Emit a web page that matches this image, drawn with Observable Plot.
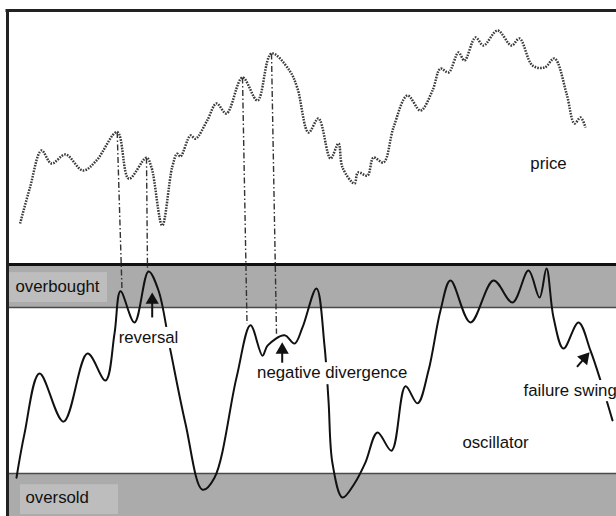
<!DOCTYPE html>
<html><head><meta charset="utf-8">
<script src="https://cdn.jsdelivr.net/npm/d3@7"></script>
<script src="https://cdn.jsdelivr.net/npm/@observablehq/plot@0.6"></script>
<style>
body{margin:0;background:#fff}
#chart{width:616px;height:516px;overflow:hidden}
#chart svg{display:block}
</style>
</head><body><div id="chart"></div>
<script>
// ---- price (upper panel), time index vs price units ----
const priceT = [19.6,29.5,41,51,65,82.5,96,116.7,128.3,146,151,161.7,171.7,176.7,180,190,195,206.7,216,226,242,257,271,289,297,308,318,330,338,342,354,357.5,367,373,383,393,407,420,432,440,448,458,464,475,483,497,511,519,532,544,554,566,574,580,585];
const priceV = [20.5,38.5,57,50.5,55,47,52,66.2,42.9,53.4,48.5,19.5,48.7,55.4,54,64.5,62.9,72,80.5,75.5,93.5,82,105.5,97,88,66,73,53,60.5,48.5,40.5,46,44.5,53.5,51,68.5,84.5,77,87,98,96,106,102,113.5,109.5,117,109.5,113,99.5,98.5,103,85.5,70.5,73.5,68.5];
// ---- oscillator (lower panel), 0-100 style ----
const oscT = [16,24,39,63,87,105,114,120,134,148,158,170,185,202,214,236,250,262,267,284,294,302,316,324,328,332,342,354,365,377,391,405,417,428,440,450,470,493,512,528,539,546,553,563,578,590,600,612];
const oscV = [29.0,39.6,54.1,42.5,58.9,52.4,63.7,73.9,66.4,78.7,74.1,59.6,42.0,26.1,29.0,53.1,65.7,58.4,60.8,63.3,61.3,65.2,74.6,60.8,47.6,32.4,24.2,27.6,32.7,39.9,35.5,51.0,46.9,54.8,69.3,76.5,66.4,76.5,71.2,78.9,72.4,79.4,67.6,60.1,66.4,59.6,52.4,42.8];
const overbought = 70, oversold = 30;
// ---- divergence links: price peak -> oscillator peak ----
const linkPriceT = [116.7,146,242,271];
const linkPriceV = [66.2,53.4,93.5,105.5];
const linkOscT = [121.5,147,246.5,276];
const linkOscV = [74.1,78.9,66.1,63.7];
// ---- annotations ----
const labelText  = ["price","overbought","oversold","reversal","negative divergence","failure swing","oscillator"];
const labelPanel = ["price","osc","osc","osc","osc","osc","osc"];
const labelT     = [548,15,25,148,331.7,523,495];
const labelV     = [50.5,75.1,24.1,62.8,54.2,50.0,37.5];
const labelAnchor= ["middle","start","start","middle","middle","start","middle"];
const boxT1 = [8,20,117.5,254,519];
const boxT2 = [107,118,180,409,640];
const boxV1 = [78.4,27.3,65.2,56.7,52.4];
const boxV2 = [71.2,20.1,60.1,51.4,47.3];
const boxFill = ["#bdbdbd","#bdbdbd","#fff","#fff","#fff"];
const arrowTailT = [151.7,281.7,576.5];
const arrowTailV = [67.6,56.7,55.7];
const arrowTipT  = [151.7,281.7,589];
const arrowTipV  = [73.6,61.6,59.2];

// ---- panel scales ----
const W = 616, H = 516;
const pricePx = d3.scaleLinear([0,127],[264,10]);   // price panel
const oscPx = d3.scaleLinear([oversold,overbought],[473,307]); // oscillator panel
const lv = p => oscPx.invert(pricePx(p));  // price -> shared level
const divider = lv(0), frameTop = lv(127);

const price = priceT.map((t,i)=>({t, v: lv(priceV[i])}));
const osc = oscT.map((t,i)=>({t, v: oscV[i]}));
const links = linkPriceT.map((t,i)=>({t1:t, v1:lv(linkPriceV[i]), t2:linkOscT[i], v2:linkOscV[i]}));
const labels = labelText.map((s,i)=>({s, t:labelT[i], v: labelPanel[i]==="price" ? lv(labelV[i]) : labelV[i], a:labelAnchor[i]}));
const boxes = boxT1.map((t,i)=>({t1:t, t2:boxT2[i], v1:boxV1[i], v2:boxV2[i], f:boxFill[i]}));

// arrows: stem + filled triangular head
const heads = [], stems = [];
arrowTailT.forEach((t,i)=>{
  const x0=t, y0=oscPx(arrowTailV[i]), x1=arrowTipT[i], y1=oscPx(arrowTipV[i]);
  const L=Math.hypot(x1-x0,y1-y0), dx=(x1-x0)/L, dy=(y1-y0)/L;
  const cx=x1-dx*7.5, cy=y1-dy*7.5, bx=x1-dx*10, by=y1-dy*10;
  heads.push({t:cx, v:oscPx.invert(cy), rot: Math.atan2(dx,-dy)*180/Math.PI});
  stems.push({t1:x0, v1:arrowTailV[i], t2:bx, v2:oscPx.invert(by)});
});

const font = "'Liberation Sans', Arial, Helvetica, sans-serif";
const FS = 16.8;
const chart = Plot.plot({
  width: W, height: H,
  marginTop: 0, marginRight: 0, marginBottom: 0, marginLeft: 0,
  style: {fontFamily: font, fontSize: FS + "px", background: "#fff", color: "#111"},
  x: {domain: [0, W], range: [0, W], axis: null},
  y: {domain: [oversold, overbought], range: [473, 307], axis: null},
  marks: [
    // bands
    Plot.rect([{}], {x1: 7, x2: 700, y1: overbought, y2: divider, fill: "#ababab", clip: true}),
    Plot.rect([{}], {x1: 7, x2: 700, y1: oversold, y2: 0, fill: "#ababab", clip: true}),
    Plot.ruleY([overbought, oversold], {x1: 7, x2: 700, stroke: "#4a4a4a", strokeWidth: 1.3}),
    // label boxes
    Plot.rect(boxes, {x1: "t1", x2: "t2", y1: "v1", y2: "v2", fill: "f", clip: true}),
    // frame
    Plot.ruleY([divider], {x1: 7, x2: 700, stroke: "#111", strokeWidth: 3}),
    Plot.ruleY([frameTop], {x1: 5.5, x2: 700, stroke: "#222", strokeWidth: 3}),
    Plot.ruleX([7], {y1: frameTop, y2: 0, stroke: "#222", strokeWidth: 3, clip: true}),
    // divergence links
    Plot.link(links, {x1: "t1", y1: "v1", x2: "t2", y2: "v2", stroke: "#333", strokeWidth: 1.4, strokeDasharray: "6,2.5,1.5,2.5", strokeLinecap: "butt"}),
    // price (dotted)
    Plot.line(price, {x: "t", y: "v", curve: "catmull-rom", stroke: "#3a3a3a", strokeWidth: 2.5, strokeDasharray: "1.6,1.2", strokeLinecap: "butt"}),
    // oscillator
    Plot.line(osc, {x: "t", y: "v", curve: "catmull-rom", stroke: "#111", strokeWidth: 2}),
    // white label backgrounds (redraw over the line)
    Plot.rect(boxes.filter(b=>b.f==="#fff"), {x1: "t1", x2: "t2", y1: "v1", y2: "v2", fill: "#fff", clip: true}),
    // arrows
    Plot.link(stems, {x1: "t1", y1: "v1", x2: "t2", y2: "v2", stroke: "#111", strokeWidth: 2}),
    Plot.dot(heads, {x: "t", y: "v", symbol: "triangle", r: 4.9, fill: "#111", stroke: "none", rotate: "rot"}),
    // texts
    Plot.text(labels.filter(d=>d.a==="middle"), {x: "t", y: "v", text: "s", textAnchor: "middle", lineAnchor: "middle", fill: "#111", fontSize: FS}),
    Plot.text(labels.filter(d=>d.a==="start"), {x: "t", y: "v", text: "s", textAnchor: "start", lineAnchor: "middle", fill: "#111", fontSize: FS})
  ]
});
document.getElementById("chart").append(chart);
</script>
</body></html>
